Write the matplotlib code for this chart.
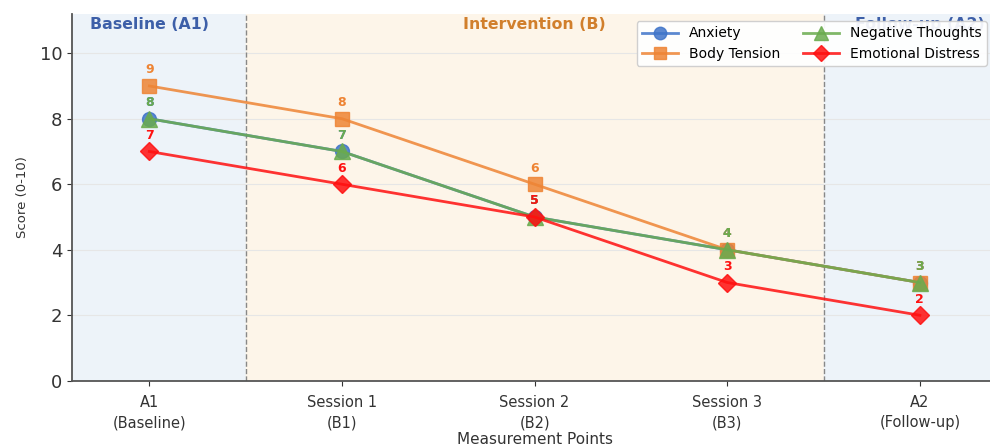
import matplotlib.pyplot as plt

# measurement points and scores for each symptom
points = ["A1\n(Baseline)", "Session 1\n(B1)", "Session 2\n(B2)", "Session 3\n(B3)", "A2\n(Follow-up)"]
anxiety = [8, 7, 5, 4, 3]
body_tension = [9, 8, 6, 4, 3]
negative_thoughts = [8, 7, 5, 4, 3]
emotional_distress = [7, 6, 5, 3, 2]

series = [
    ("Anxiety", anxiety, "#3f74c9", "o", 10),
    ("Body Tension", body_tension, "#ee8434", "s", 10),
    ("Negative Thoughts", negative_thoughts, "#6aab4e", "^", 11),
    ("Emotional Distress", emotional_distress, "#ff1010", "D", 9),
]

phases = [("Baseline (A1)", -0.5, 0.5, "#edf3f9", "#3d5fa8"),
          ("Intervention (B)", 0.5, 3.5, "#fdf5e9", "#d17f2c"),
          ("Follow-up (A2)", 3.5, 4.5, "#edf3f9", "#3d5fa8")]

fig = plt.figure(figsize=(9.9, 4.48), dpi=100)
ax = fig.add_axes([0.073, 0.15, 0.934, 0.819])

x = list(range(len(points)))

for name, start, end, bg, tc in phases:
    ax.axvspan(start, end, color=bg, zorder=0)
    ax.text((start + end) / 2, 10.88, name, ha="center", va="center",
            fontsize=11.3, fontweight="bold", color=tc, zorder=1)

for pos in (0.5, 3.5):
    ax.axvline(pos, color="#888888", linestyle="--", linewidth=1, zorder=1)

for name, vals, col, mk, ms in series:
    ax.plot(x, vals, color=col, marker=mk, markersize=ms, linewidth=2,
            alpha=0.85, label=name, zorder=3)
    for xi, v in zip(x, vals):
        ax.annotate(str(v), (xi, v), xytext=(0, 7), textcoords="offset points",
                    ha="center", va="bottom", fontsize=9, fontweight="bold",
                    color=col, zorder=4)

ax.set_xlim(-0.4, 4.4)
ax.set_ylim(0, 11.2)
ax.set_yticks([0, 2, 4, 6, 8, 10])
ax.set_xticks(x)
ax.set_xticklabels(points, fontsize=10.5, color="#333333", linespacing=1.4)
ax.tick_params(axis="y", labelsize=13, colors="#333333")
ax.tick_params(axis="x", colors="#333333", pad=7)
ax.set_xlabel("Measurement Points", fontsize=11, color="#333333", labelpad=1)
ax.set_ylabel("Score (0-10)", fontsize=9.5, color="#333333", labelpad=8)
ax.grid(axis="y", color="#e6e6e6", linewidth=0.8, zorder=0)
ax.set_axisbelow(True)

for side in ("top", "right"):
    ax.spines[side].set_visible(False)
for side in ("left", "bottom"):
    ax.spines[side].set_color("#555555")
    ax.spines[side].set_linewidth(1.3)

leg = ax.legend(loc="upper right", bbox_to_anchor=(0.997, 1.0), ncol=2, fontsize=10,
                frameon=True, framealpha=0.92, handlelength=2.6, columnspacing=1.6,
                borderpad=0.4, labelspacing=0.45, markerscale=0.9)
leg.set_zorder(5)

fig.savefig("out.png", dpi=100)
